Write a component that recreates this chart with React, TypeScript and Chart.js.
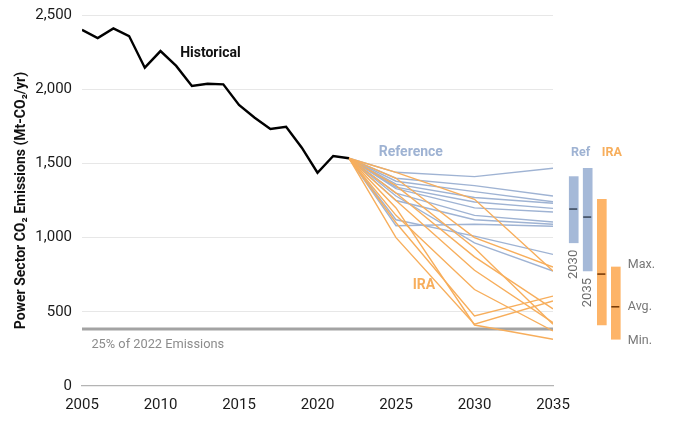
import React, { useEffect, useRef } from 'react';
import { Chart, registerables } from 'chart.js';

Chart.register(...registerables);

const histYears = [2005, 2006, 2007, 2008, 2009, 2010, 2011, 2012, 2013, 2014, 2015, 2016, 2017, 2018, 2019, 2020, 2021, 2022];
const histValues = [2400, 2345, 2410, 2358, 2145, 2257, 2157, 2022, 2037, 2033, 1894, 1808, 1732, 1747, 1606, 1437, 1550, 1535];

const scenarioYears = [2022, 2025, 2030, 2035];
const refRuns = [
  [1535, 1440, 1411, 1467],
  [1535, 1400, 1350, 1280],
  [1535, 1380, 1310, 1242],
  [1535, 1360, 1270, 1231],
  [1535, 1340, 1240, 1197],
  [1535, 1330, 1200, 1172],
  [1535, 1300, 1150, 1105],
  [1535, 1250, 1120, 1090],
  [1535, 1080, 1090, 1076],
  [1535, 1120, 1010, 887],
  [1535, 1280, 965, 775],
];
const iraRuns = [
  [1535, 1440, 1258, 775],
  [1535, 1400, 1000, 802],
  [1535, 1350, 930, 416],
  [1535, 1300, 870, 520],
  [1535, 1250, 780, 427],
  [1535, 1150, 650, 371],
  [1535, 1100, 472, 606],
  [1535, 1000, 416, 573],
  [1535, 1200, 411, 315],
];

const targetShare = 0.25;
const yTicks = [0, 500, 1000, 1500, 2000, 2500];
const xTicks = [2005, 2010, 2015, 2020, 2025, 2030, 2035];

// side range bars: which runs / which column (2030 -> 2, 2035 -> 3)
const rangeRuns = [refRuns, refRuns, iraRuns, iraRuns];
const rangeCols = [2, 3, 2, 3];
const rangeYearLabels = ['2030', '2035', '', ''];
const rangeX = [2036.32, 2037.21, 2038.11, 2039.0];

const BLUE = '#9fb3d3';
const BLUE_BAR = '#a5b9d8';
const ORANGE = '#f7ae5c';
const ORANGE_BAR = '#fdb468';
const AVG_COLORS = ['#3d4a5e', '#3d4a5e', '#7a3c08', '#7a3c08'];
const FONT = 'Roboto';
const BAR_W = 9;

const stats = (vals: number[]) => ({
  min: Math.min(...vals),
  max: Math.max(...vals),
  avg: vals.reduce((a, b) => a + b, 0) / vals.length,
});
const rangeStats = rangeRuns.map((runs, i) => stats(runs.map((r) => r[rangeCols[i]])));

const notes = [
  { text: 'Historical', x: 2011.25, y: 2238, color: '#111', size: 14, weight: 'bold' },
  { text: 'Reference', x: 2023.9, y: 1574, color: BLUE, size: 14, weight: 'bold' },
  { text: 'IRA', x: 2026.06, y: 680, color: ORANGE, size: 14, weight: 'bold' },
  { text: '25% of 2022 Emissions', x: 2005.6, y: 276, color: '#8c8c8c', size: 12.8, weight: 'normal' },
];

const notesPlugin = {
  id: 'notes',
  afterDatasetsDraw(chart: any) {
    const { ctx, scales } = chart;
    const x = scales.x;
    const y = scales.y;
    ctx.save();

    // average ticks on the range bars
    rangeStats.forEach((s, i) => {
      const cx = x.getPixelForValue(rangeX[i]);
      const cy = y.getPixelForValue(s.avg);
      ctx.strokeStyle = AVG_COLORS[i];
      ctx.lineWidth = 1.6;
      ctx.beginPath();
      ctx.moveTo(cx - BAR_W / 2, cy);
      ctx.lineTo(cx + BAR_W / 2 - 1, cy);
      ctx.stroke();
    });

    ctx.textBaseline = 'middle';
    ctx.textAlign = 'left';
    notes.forEach((n) => {
      ctx.font = `${n.weight} ${n.size}px ${FONT}`;
      ctx.fillStyle = n.color;
      ctx.fillText(n.text, x.getPixelForValue(n.x), y.getPixelForValue(n.y));
    });

    // year labels under the ref bars
    ctx.font = `13px ${FONT}`;
    ctx.fillStyle = '#6e6e6e';
    rangeStats.forEach((s, i) => {
      if (!rangeYearLabels[i]) return;
      ctx.save();
      ctx.translate(x.getPixelForValue(rangeX[i]), y.getPixelForValue(s.min) + 7);
      ctx.rotate(-Math.PI / 2);
      ctx.textAlign = 'right';
      ctx.fillText(rangeYearLabels[i], 0, 0);
      ctx.restore();
    });

    // Ref / IRA headers
    ctx.font = `bold 12.5px ${FONT}`;
    ctx.textAlign = 'center';
    const top = y.getPixelForValue(1572);
    ctx.fillStyle = BLUE;
    ctx.fillText('Ref', (x.getPixelForValue(rangeX[0]) + x.getPixelForValue(rangeX[1])) / 2, top);
    ctx.fillStyle = ORANGE;
    ctx.fillText('IRA', (x.getPixelForValue(rangeX[2]) + x.getPixelForValue(rangeX[3])) / 2 + 3, top);

    // Max / Avg / Min next to last bar
    const last = rangeStats[3];
    const lx = x.getPixelForValue(rangeX[3]) + 12;
    ctx.font = `12.5px ${FONT}`;
    ctx.fillStyle = '#777';
    ctx.textAlign = 'left';
    ctx.fillText('Max.', lx, y.getPixelForValue(last.max) - 2);
    ctx.fillText('Avg.', lx, y.getPixelForValue(last.avg));
    ctx.fillText('Min.', lx, y.getPixelForValue(last.min) + 2);
    ctx.restore();
  },
};

const App = () => {
  const canvasRef = useRef<HTMLCanvasElement | null>(null);

  useEffect(() => {
    document.body.style.margin = '0';
    if (!canvasRef.current) return;

    const lineSet = (vals: number[], color: string, width: number, order: number) => ({
      type: 'line',
      data: scenarioYears.map((yr, i) => ({ x: yr, y: vals[i] })),
      borderColor: color,
      borderWidth: width,
      pointRadius: 0,
      fill: false,
      tension: 0,
      order,
    });

    const target = targetShare * histValues[histValues.length - 1];

    const datasets: any[] = [
      {
        type: 'line',
        data: [
          { x: xTicks[0], y: target },
          { x: xTicks[xTicks.length - 1], y: target },
        ],
        borderColor: '#a3a3a3',
        borderWidth: 3,
        pointRadius: 0,
        order: 5,
      },
      ...refRuns.map((r) => lineSet(r, BLUE, 1.4, 4)),
      ...iraRuns.map((r) => lineSet(r, ORANGE, 1.4, 3)),
      {
        type: 'line',
        data: histYears.map((yr, i) => ({ x: yr, y: histValues[i] })),
        borderColor: '#000',
        borderWidth: 2.4,
        pointRadius: 0,
        tension: 0,
        order: 1,
      },
      {
        type: 'bar',
        data: rangeStats.map((s, i) => ({ x: rangeX[i], y: [s.min, s.max] })),
        backgroundColor: [BLUE_BAR, BLUE_BAR, ORANGE_BAR, ORANGE_BAR],
        borderWidth: 0,
        barThickness: BAR_W,
        clip: false,
        order: 2,
      },
    ];

    const chart = new Chart(canvasRef.current, {
      type: 'line',
      data: { datasets },
      options: {
        responsive: true,
        maintainAspectRatio: false,
        animation: false,
        layout: { padding: { left: 0, right: 127, top: 15, bottom: 0 } },
        plugins: {
          legend: { display: false },
          tooltip: { enabled: false },
        },
        scales: {
          x: {
            type: 'linear',
            min: xTicks[0],
            max: xTicks[xTicks.length - 1],
            offset: false,
            afterBuildTicks: (scale: any) => {
              scale.ticks = xTicks.map((v) => ({ value: v }));
            },
            afterFit: (scale: any) => {
              scale.height = 35;
            },
            grid: { display: false, drawTicks: false },
            border: { display: true, color: '#b4b4b4', width: 1.2 },
            ticks: {
              padding: 10,
              color: '#1a1a1a',
              font: { family: FONT, size: 15 },
              callback: (v: any) => String(v),
              maxRotation: 0,
            },
          },
          y: {
            min: yTicks[0],
            max: yTicks[yTicks.length - 1],
            afterBuildTicks: (scale: any) => {
              scale.ticks = yTicks.map((v) => ({ value: v }));
            },
            afterFit: (scale: any) => {
              scale.width = 82;
              // labels may overflow the plot edges; don't let them push it in
              scale.paddingTop = 0;
              scale.paddingBottom = 0;
            },
            grid: {
              color: (c: any) => (c.tick && c.tick.value === 0 ? 'rgba(0,0,0,0)' : '#e7e7e7'),
              drawTicks: false,
              lineWidth: 1,
            },
            border: { display: false },
            ticks: {
              padding: 10,
              color: '#1a1a1a',
              font: { family: FONT, size: 15 },
              callback: (v: any) => Number(v).toLocaleString('en-US'),
            },
            title: {
              display: true,
              text: 'Power Sector CO₂ Emissions (Mt-CO₂/yr)',
              color: '#111',
              font: { family: FONT, size: 14, weight: 'bold' },
              padding: { top: 13, bottom: 0 },
            },
          },
        },
      },
      plugins: [notesPlugin],
    } as any);

    return () => {
      chart.destroy();
    };
  }, []);

  return (
    <div style={{ position: 'relative', width: 680, height: 421 }}>
      <canvas ref={canvasRef} />
    </div>
  );
};

export default App;
